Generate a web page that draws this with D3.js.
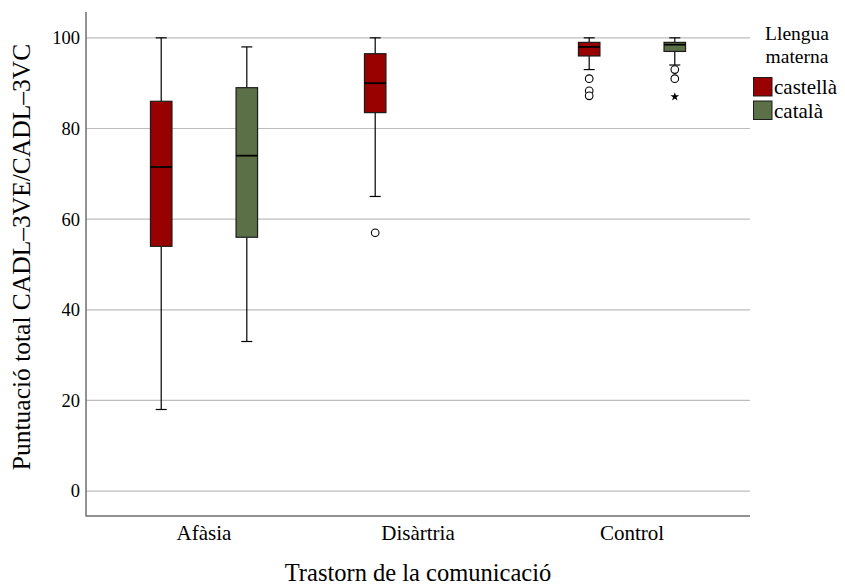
<!DOCTYPE html>
<html>
<head>
<meta charset="utf-8">
<script src="https://cdn.jsdelivr.net/npm/d3@7"></script>
<style>
  html, body { margin: 0; padding: 0; background: #fff; }
  svg text { font-family: "Liberation Serif", "DejaVu Serif", serif; fill: #000; }
</style>
</head>
<body>
<svg id="chart" width="845" height="586"></svg>
<script>
// Categories and series
const categories = ["Afàsia", "Disàrtria", "Control"];
const languages = ["castellà", "català"];
const seriesColors = ["#990000", "#5b7046"];

// Five-number summaries per category: [min whisker, Q1, median, Q3, max whisker]
const castellaStats = [
  [18, 54, 71.5, 86, 100],
  [65, 83.5, 90, 96.5, 100],
  [93, 96, 98, 99, 100]
];
const catalaStats = [
  [33, 56, 74, 89, 98],
  null,
  [94, 97, 98.5, 99, 100]
];

// Outliers (circles) and extreme values (stars)
const castellaOutliers = [[], [57], [91, 88.3, 87.2]];
const catalaOutliers = [[], [], [93, 91]];
const castellaExtremes = [[], [], []];
const catalaExtremes = [[], [], [87]];

const yTicks = [0, 20, 40, 60, 80, 100];

const serif = '"Liberation Serif", "DejaVu Serif", serif';
const svg = d3.select("#chart");
const plotLeft = 86, plotRight = 750, plotTop = 12, plotBottom = 516;

const x = d3.scaleBand().domain(categories).range([plotLeft, plotRight])
  .paddingInner(0).paddingOuter(0.0515);
const xSub = d3.scaleBand().domain(languages).range([-x.bandwidth() * 0.4, x.bandwidth() * 0.4]);
const y = d3.scaleLinear().domain([-5.5, 105.7]).range([plotBottom, plotTop]);

// Gridlines
svg.append("g").selectAll("line").data(yTicks).join("line")
  .attr("x1", plotLeft).attr("x2", plotRight)
  .attr("y1", d => y(d)).attr("y2", d => y(d))
  .attr("stroke", "#bdbdbd").attr("stroke-width", 1.2);

// Y axis
const yAxis = svg.append("g").attr("transform", `translate(${plotLeft},0)`)
  .call(d3.axisLeft(y).tickValues(yTicks).tickSize(0).tickPadding(6))
  .attr("font-family", serif);
yAxis.select(".domain").remove();
yAxis.selectAll("text").style("font-family", serif).attr("font-size", 18.5);

// X axis
const xAxis = svg.append("g").attr("transform", `translate(0,${plotBottom})`)
  .call(d3.axisBottom(x).tickSize(0).tickPadding(0))
  .attr("font-family", serif);
xAxis.select(".domain").remove();
xAxis.selectAll("text").style("font-family", serif).attr("font-size", 21).attr("dy", null).attr("y", 24);

// Axis lines
svg.append("line").attr("x1", plotLeft).attr("x2", plotLeft).attr("y1", plotTop).attr("y2", plotBottom + 0.5)
  .attr("stroke", "#6e6e6e").attr("stroke-width", 1.5);
svg.append("line").attr("x1", plotLeft).attr("x2", plotRight).attr("y1", plotBottom).attr("y2", plotBottom)
  .attr("stroke", "#6e6e6e").attr("stroke-width", 1.5);

// Boxes
const boxW = 21.5, capW = 11;
const series = [
  { lang: languages[0], stats: castellaStats, outliers: castellaOutliers, extremes: castellaExtremes, color: seriesColors[0] },
  { lang: languages[1], stats: catalaStats, outliers: catalaOutliers, extremes: catalaExtremes, color: seriesColors[1] }
];

const boxes = [];
series.forEach(s => categories.forEach((c, i) => {
  if (s.stats[i]) boxes.push({ cat: c, lang: s.lang, st: s.stats[i], color: s.color,
    outliers: s.outliers[i], extremes: s.extremes[i] });
}));

const g = svg.append("g");
boxes.forEach(b => {
  const cx = x(b.cat) + x.bandwidth() / 2 + xSub(b.lang) + xSub.bandwidth() / 2;
  const [mn, q1, md, q3, mx] = b.st;
  const bg = g.append("g");
  // whiskers
  bg.append("line").attr("x1", cx).attr("x2", cx).attr("y1", y(mx)).attr("y2", y(q3))
    .attr("stroke", "#000").attr("stroke-width", 1.2);
  bg.append("line").attr("x1", cx).attr("x2", cx).attr("y1", y(q1)).attr("y2", y(mn))
    .attr("stroke", "#000").attr("stroke-width", 1.2);
  [mn, mx].forEach(v => bg.append("line")
    .attr("x1", cx - capW / 2).attr("x2", cx + capW / 2).attr("y1", y(v)).attr("y2", y(v))
    .attr("stroke", "#000").attr("stroke-width", 1.2));
  // box
  bg.append("rect").attr("x", cx - boxW / 2).attr("width", boxW)
    .attr("y", y(q3)).attr("height", y(q1) - y(q3))
    .attr("fill", b.color).attr("stroke", "#1c1c1c").attr("stroke-width", 1.2);
  // median
  bg.append("line").attr("x1", cx - boxW / 2).attr("x2", cx + boxW / 2)
    .attr("y1", y(md)).attr("y2", y(md)).attr("stroke", "#000").attr("stroke-width", 1.8);
  // outliers
  bg.selectAll("circle").data(b.outliers).join("circle")
    .attr("cx", cx).attr("cy", d => y(d)).attr("r", 3.8)
    .attr("fill", "#fff").attr("stroke", "#000").attr("stroke-width", 1.1);
  bg.selectAll("path.ext").data(b.extremes).join("path").attr("class", "ext")
    .attr("transform", d => `translate(${cx},${y(d)})`)
    .attr("d", d3.symbol(d3.symbolStar, 24)).attr("fill", "#000");
});

// Axis titles
svg.append("text").attr("x", (plotLeft + plotRight) / 2).attr("y", 581)
  .attr("text-anchor", "middle").attr("font-size", 24.5).text("Trastorn de la comunicació");
svg.append("text").attr("transform", "translate(30,257) rotate(-90)")
  .attr("text-anchor", "middle").attr("font-size", 25.5).text("Puntuació total CADL–3VE/CADL–3VC");

// Legend
const lg = svg.append("g");
lg.append("text").attr("x", 797).attr("y", 40).attr("text-anchor", "middle")
  .attr("font-size", 19.5).text("Llengua");
lg.append("text").attr("x", 797).attr("y", 62.5).attr("text-anchor", "middle")
  .attr("font-size", 19.5).text("materna");
languages.forEach((l, i) => {
  lg.append("rect").attr("x", 753.5).attr("y", 77.5 + i * 23.5).attr("width", 18.5).attr("height", 18.5)
    .attr("fill", seriesColors[i]).attr("stroke", "#1c1c1c").attr("stroke-width", 1);
  lg.append("text").attr("x", 774).attr("y", 94 + i * 23.5).attr("font-size", 21).text(l);
});
</script>
</body>
</html>
